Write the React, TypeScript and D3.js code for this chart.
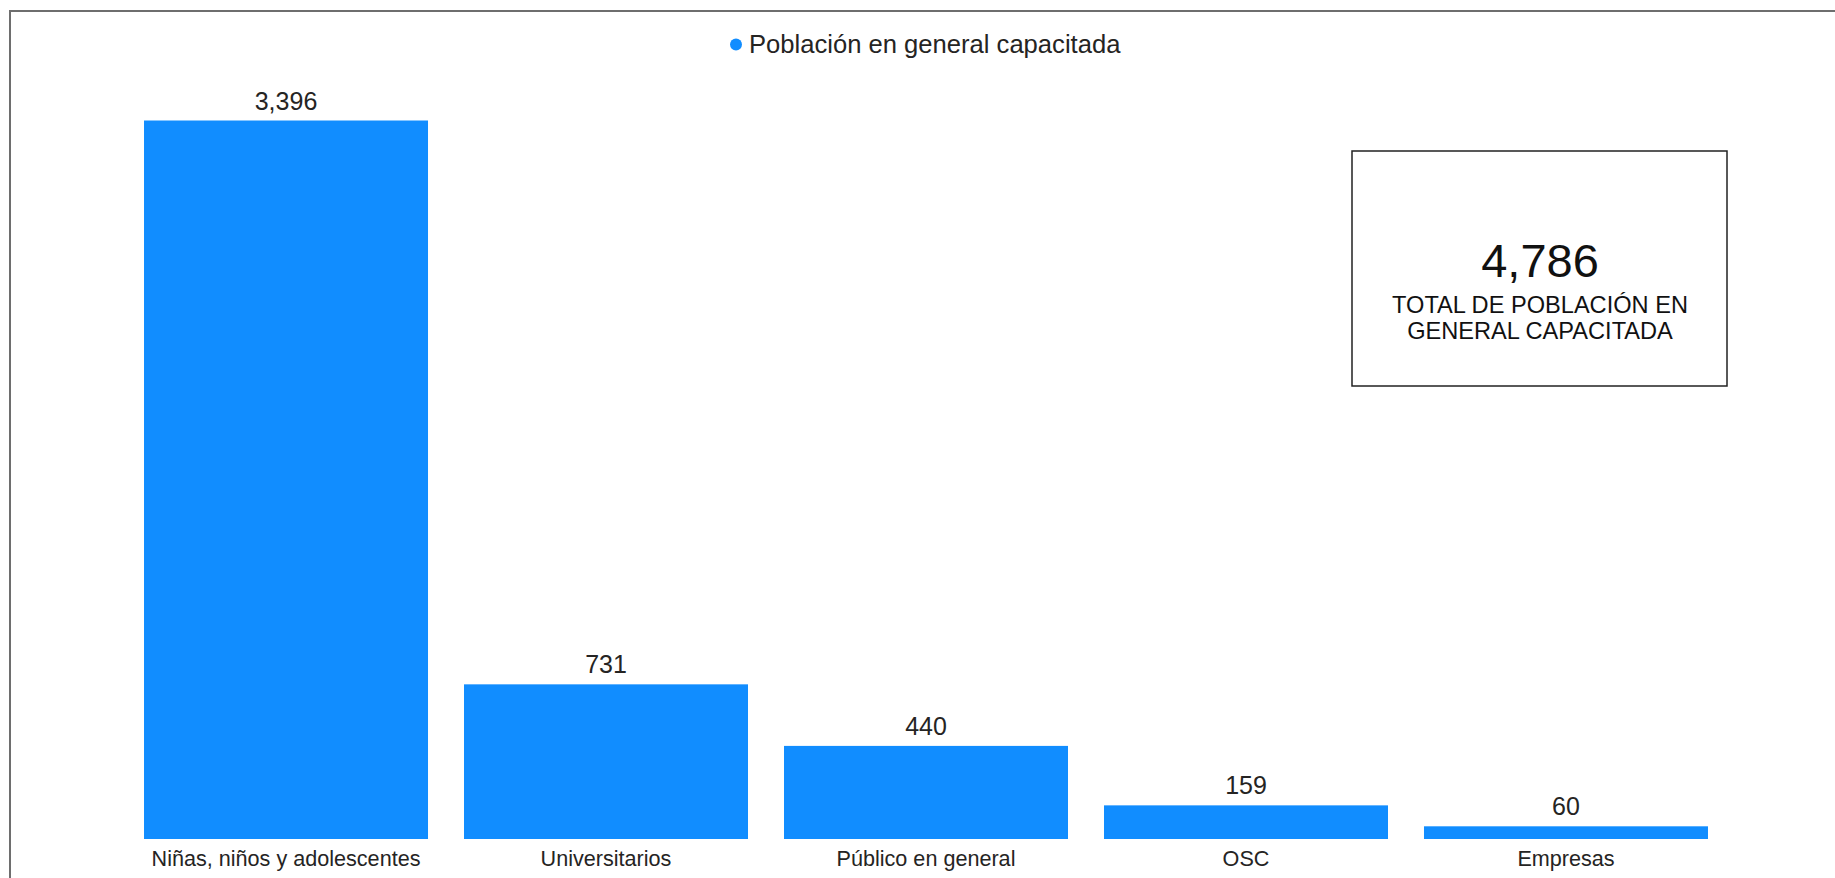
import React from "react";
import * as d3 from "d3";

const categories = ["Niñas, niños y adolescentes", "Universitarios", "Público en general", "OSC", "Empresas"];
const values = [3396, 731, 440, 159, 60];
const legendLabel = "Población en general capacitada";
const totalValue = 4786;
const totalLabelLines = ["TOTAL DE POBLACIÓN EN", "GENERAL CAPACITADA"];

const W = 1835;
const H = 878;
const BLUE = "#118DFF";
const TEXT = "#252423";
const FONT = "'Liberation Sans', Arial, sans-serif";

export default function App() {
  const x = d3.scaleBand<string>().domain(categories).range([126, 1726]).paddingInner(0.1125).paddingOuter(0.0563);
  const y = d3.scaleLinear().domain([0, 3396]).range([839, 120.5]);
  const fmt = d3.format(",");
  return (
    <svg width={W} height={H} style={{ position: "absolute", left: 0, top: 0, background: "#fff" }} fontFamily={FONT}>
      <rect x={10} y={11} width={W + 20} height={H + 20} fill="none" stroke="#6e6e6e" strokeWidth={2} />
      <circle cx={736} cy={44.5} r={6} fill={BLUE} />
      <text x={749} y={52.5} fontSize={25.6} fill={TEXT}>{legendLabel}</text>
      {categories.map((c, i) => {
        const bx = x(c)!;
        const bw = x.bandwidth();
        const top = y(values[i]);
        return (
          <g key={c}>
            <rect x={bx} y={top} width={bw} height={y(0) - top} fill={BLUE} />
            <text x={bx + bw / 2} y={top - 11} textAnchor="middle" fontSize={25} fill={TEXT}>{fmt(values[i])}</text>
            <text x={bx + bw / 2} y={866} textAnchor="middle" fontSize={21.6} fill={TEXT}>{c}</text>
          </g>
        );
      })}
      <rect x={1352} y={151} width={375} height={235} fill="#fff" stroke="#222" strokeWidth={1.5} />
      <text x={1540} y={277} textAnchor="middle" fontSize={47} fill="#111">{fmt(totalValue)}</text>
      {totalLabelLines.map((t, i) => (
        <text key={t} x={1540} y={313 + i * 26} textAnchor="middle" fontSize={23.6} fill="#111">{t}</text>
      ))}
    </svg>
  );
}
